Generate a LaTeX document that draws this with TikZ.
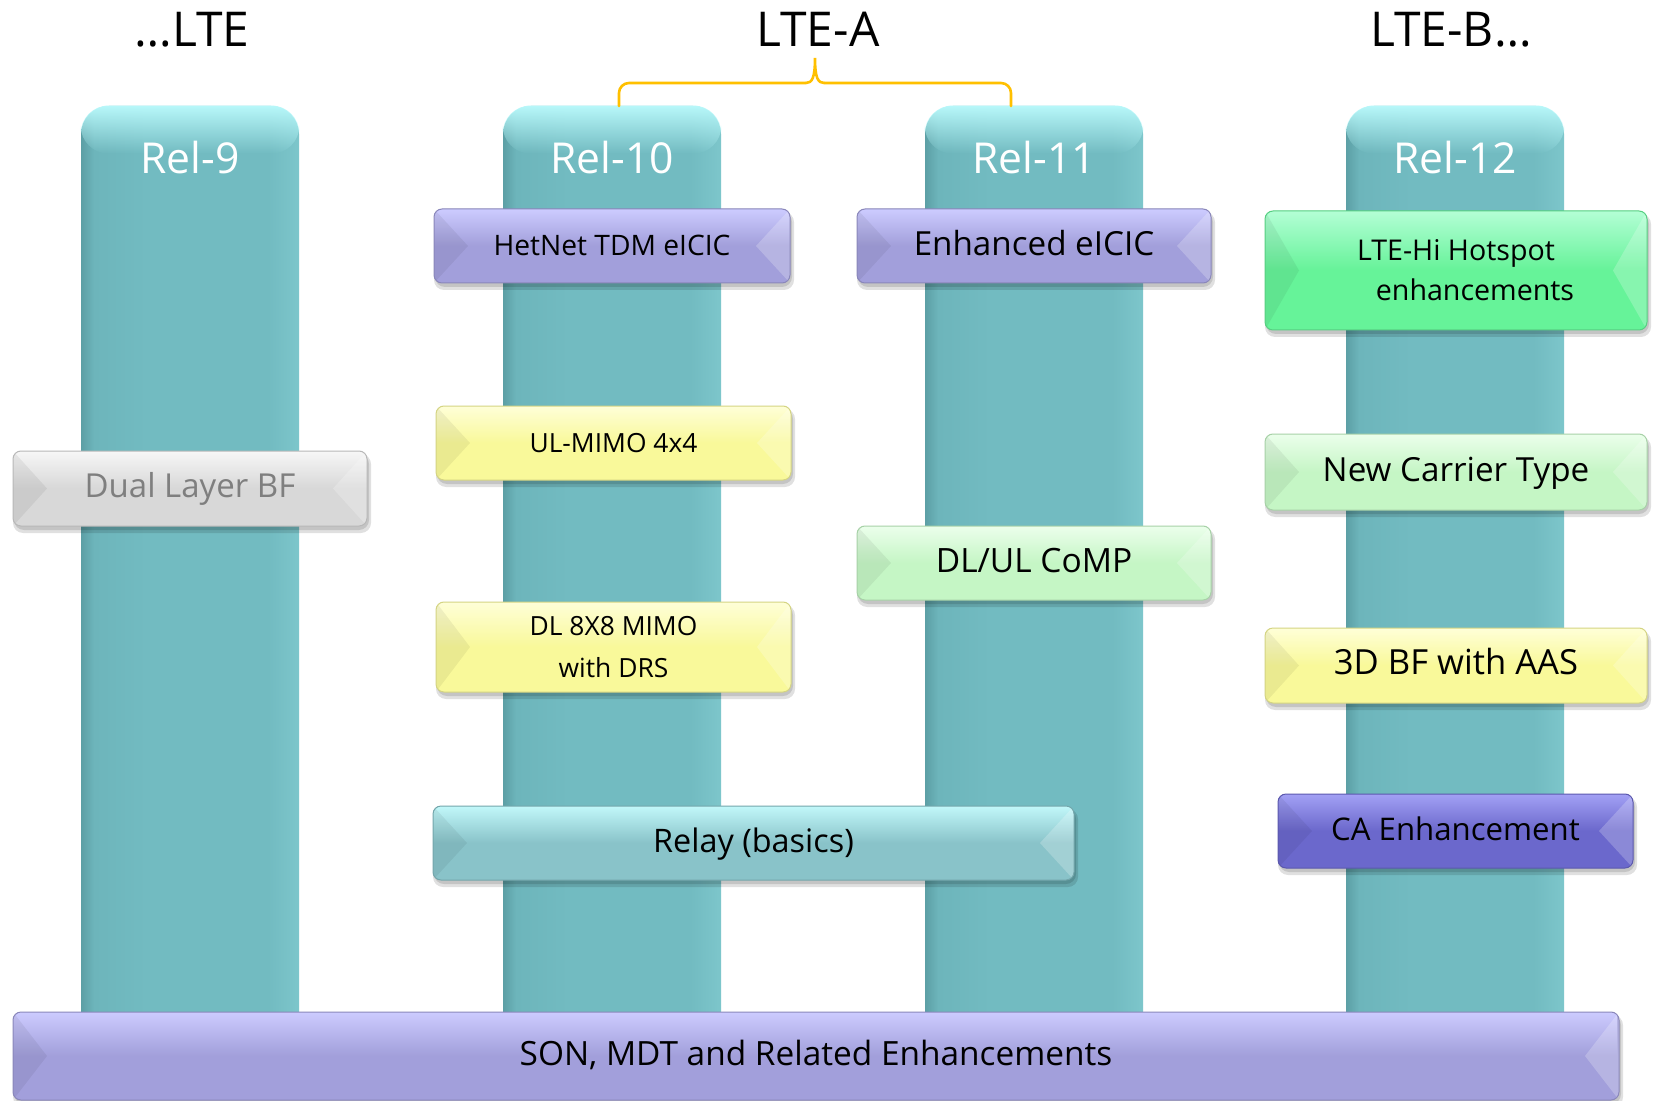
\documentclass[tikz,border=0pt]{standalone}
\usepackage{fontspec}
\setmainfont{Open Sans}
\usetikzlibrary{calc,fadings}
\tikzfading[name=fadedown, top color=transparent!0, bottom color=transparent!100]
\definecolor{tealL}{HTML}{5C9FA5}
\definecolor{tealM}{HTML}{6DB5BB}
\definecolor{tealB}{HTML}{72BBC1}
\definecolor{tealR}{HTML}{7DC6CB}
\definecolor{tealTop}{HTML}{B8F8FA}
\definecolor{braceC}{HTML}{FFC000}
\definecolor{purB}{HTML}{A29FDB}
\definecolor{purH}{HTML}{CDCCFF}
\definecolor{yelB}{HTML}{F9F99A}
\definecolor{yelH}{HTML}{FFFFD8}
\definecolor{lgrB}{HTML}{C5F6C5}
\definecolor{lgrH}{HTML}{ECFFEC}
\definecolor{grnB}{HTML}{66F399}
\definecolor{grnH}{HTML}{B4FFD6}
\definecolor{gryB}{HTML}{D8D8D8}
\definecolor{gryH}{HTML}{F7F7F7}
\definecolor{gryT}{HTML}{7F7F7F}
\definecolor{caB}{HTML}{6B68CC}
\definecolor{caH}{HTML}{A3A1F5}
\definecolor{rlyB}{HTML}{89C3C9}
\definecolor{rlyH}{HTML}{C2F8FA}
\pgfdeclarehorizontalshading{colshade}{100bp}{color(0bp)=(tealL); color(25bp)=(tealL); color(28bp)=(tealM); color(40bp)=(tealB); color(68bp)=(tealB); color(75bp)=(tealR); color(100bp)=(tealR)}
\tikzset{
  gem/.style 2 args={rounded corners=4pt, draw=#1!85!black, line width=0.5pt, fill=#1,
    inner sep=0pt, align=center,
    path picture={
      \begin{scope}[sharp corners]
        \fill[#2, path fading=fadedown] (path picture bounding box.north west) rectangle (path picture bounding box.east);
        \fill[black, opacity=0.06] (path picture bounding box.north west) -- ($(path picture bounding box.west)+(17pt,0)$) -- (path picture bounding box.south west) -- cycle;
        \fill[white, opacity=0.22] (path picture bounding box.north east) -- ($(path picture bounding box.east)+(-17pt,0)$) -- (path picture bounding box.south east) -- cycle;
      \end{scope}}},
  fs/.style 2 args={font=\fontsize{#1}{#2}\selectfont},
  one/.style={text height=0.92em, text depth=0pt},
  relcol/.style={rounded corners=14pt, shading=colshade, shading angle=0,
    minimum width=109pt, minimum height=472pt, inner sep=0pt},
  colhi/.style={tealTop, path fading=fadedown, rounded corners=14pt},
  rellab/.style={text=white, fs={21.3}{25}, anchor=base, inner sep=0pt},
  head/.style={text=black, fs={24}{28}, anchor=base, inner sep=0pt},
  bracket/.style={braceC, line width=1.3pt, line cap=round},
  shadowA/.style={black, opacity=0.12, rounded corners=5pt}
}
\newcommand\gembox[7]{%
  \fill[shadowA] (#2,#3+3) rectangle (#4+4,#5+7);
  \fill[shadowA] (#2+1,#3+3) rectangle (#4+2,#5+4);
  \node[#6, minimum width={(#4-#2)*0.5pt}, minimum height={(#5-#3)*0.5pt}] (#1) at ({(#2+#4)/2},{(#3+#5)/2}) {#7};}
\newcommand\relcolumn[2]{%
  \node[relcol] (#1) at (#2,578) {};
  \fill[colhi] (#1.north west) rectangle ($(#1.north east)+(0,-24pt)$);}
\begin{document}
\begin{tikzpicture}[x=0.5pt, y=-0.5pt]
\useasboundingbox[fill=white] (0,0) rectangle (1653,1101);
% columns
\relcolumn{col9}{190}
\relcolumn{col10}{612}
\relcolumn{col11}{1034}
\relcolumn{col12}{1455}
\node[rellab] (l9)  at (190,174) {Rel-9};
\node[rellab] (l10) at (612,174) {Rel-10};
\node[rellab] (l11) at (1034,174) {Rel-11};
\node[rellab] (l12) at (1455,174) {Rel-12};
% headings
\node[head] (hLTE) at (192,47) {…LTE};
\node[head] (hLTEA) at (818,47) {LTE-A};
\node[head] (hLTEB) at (1451,47) {LTE-B…};
% bracket
\draw[bracket, rounded corners=5pt] (619,106) -- (619,83) -- (806,83);
\draw[bracket] (806,83) .. controls (812,83) and (815,78) .. (815,58) .. controls (815,78) and (818,83) .. (824,83);
\draw[bracket, rounded corners=5pt] (824,83) -- (1011,83) -- (1011,106);
% boxes
\gembox{hetnet}{434}{209}{790}{283}{gem={purB}{purH}, fs={14.1}{17}, one}{HetNet TDM eICIC}
\gembox{enh}{857}{209}{1211}{283}{gem={purB}{purH}, fs={16.6}{20}, one}{Enhanced eICIC}
\gembox{ltehi}{1265}{211}{1647}{330}{gem={grnB}{grnH}, fs={14.3}{20}}{LTE-Hi Hotspot\\\hspace*{19pt}enhancements}
\gembox{dual}{13}{451}{367}{526}{gem={gryB}{gryH}, fs={16.5}{20}, one, text=gryT}{Dual Layer BF}
\gembox{ulmimo}{436}{406}{791}{480}{gem={yelB}{yelH}, fs={13.2}{16}, one}{UL-MIMO 4x4}
\gembox{nct}{1265}{434}{1647}{510}{gem={lgrB}{lgrH}, fs={16.6}{20}, one}{New Carrier Type}
\gembox{comp}{857}{526}{1211}{600}{gem={lgrB}{lgrH}, fs={16.75}{20}, one}{DL/UL CoMP}
\gembox{dlmimo}{436}{602}{791}{692}{gem={yelB}{yelH}, fs={13.2}{21}}{DL 8X8 MIMO\\with DRS}
\gembox{bf3d}{1265}{628}{1647}{703}{gem={yelB}{yelH}, fs={17.3}{20}, one}{3D BF with AAS}
\gembox{relay}{433}{806}{1074}{880}{gem={rlyB}{rlyH}, fs={16.2}{20}, one}{Relay (basics)}
\gembox{ca}{1278}{794}{1633}{868}{gem={caB}{caH}, fs={15.6}{20}, one}{CA Enhancement}
\gembox{son}{13}{1012}{1619}{1100}{gem={purB}{purH}, fs={16.7}{20}, one}{SON, MDT and Related Enhancements}
\end{tikzpicture}
\end{document}
